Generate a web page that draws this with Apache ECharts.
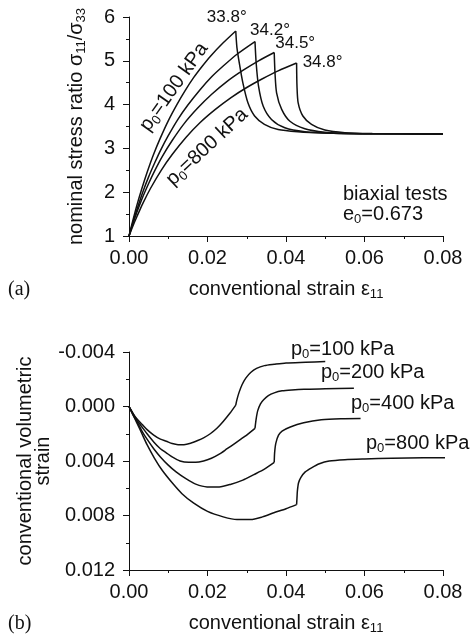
<!DOCTYPE html>
<html>
<head>
<meta charset="utf-8">
<script src="https://cdn.jsdelivr.net/npm/echarts@6/dist/echarts.min.js"></script>
<style>
  html, body { margin: 0; padding: 0; background: #fff; }
  #chart { width: 476px; height: 636px; }
</style>
</head>
<body>
<div id="chart"></div>
<script>
// (a) stress ratio vs strain, one pair of arrays per confining pressure
var strainA100 = [0, 0.001, 0.002, 0.0033, 0.0046, 0.0062, 0.008, 0.010, 0.0122, 0.0143, 0.0165, 0.0186, 0.0207, 0.024, 0.0272, 0.0275, 0.0281, 0.029, 0.0303, 0.032, 0.0345, 0.038, 0.043, 0.05, 0.06, 0.08];
var ratio100   = [1, 1.36, 1.70, 2.09, 2.45, 2.85, 3.24, 3.63, 4.0, 4.32, 4.62, 4.87, 5.10, 5.41, 5.68, 5.30, 4.95, 4.50, 4.04, 3.74, 3.55, 3.43, 3.38, 3.35, 3.335, 3.33];
var strainA200 = [0, 0.001, 0.002, 0.0035, 0.005, 0.0065, 0.008, 0.010, 0.0125, 0.015, 0.018, 0.021, 0.024, 0.0275, 0.0321, 0.0324, 0.033, 0.0342, 0.0363, 0.0397, 0.0448, 0.052, 0.06, 0.08];
var ratio200   = [1, 1.31, 1.60, 2.0, 2.35, 2.66, 2.95, 3.29, 3.67, 3.99, 4.33, 4.63, 4.88, 5.15, 5.44, 4.95, 4.42, 3.96, 3.66, 3.47, 3.38, 3.345, 3.335, 3.33];
var strainA400 = [0, 0.001, 0.002, 0.0035, 0.005, 0.0066, 0.0085, 0.011, 0.014, 0.0175, 0.021, 0.025, 0.029, 0.033, 0.037, 0.0372, 0.0376, 0.0389, 0.041, 0.0448, 0.0499, 0.056, 0.065, 0.08];
var ratio400   = [1, 1.28, 1.54, 1.89, 2.2, 2.5, 2.82, 3.18, 3.56, 3.92, 4.23, 4.53, 4.78, 5.0, 5.19, 4.72, 4.27, 3.89, 3.62, 3.45, 3.37, 3.34, 3.333, 3.33];
var strainA800 = [0, 0.001, 0.002, 0.0035, 0.0055, 0.0082, 0.011, 0.0145, 0.018, 0.022, 0.026, 0.030, 0.034, 0.038, 0.0427, 0.0428, 0.0431, 0.0443, 0.0465, 0.0499, 0.055, 0.062, 0.07, 0.08];
var ratio800   = [1, 1.23, 1.44, 1.74, 2.09, 2.5, 2.86, 3.25, 3.58, 3.89, 4.16, 4.39, 4.59, 4.77, 4.95, 4.42, 4.04, 3.74, 3.55, 3.42, 3.36, 3.34, 3.333, 3.33];
var peakAngles = ['33.8°', '34.2°', '34.5°', '34.8°'];

// (b) volumetric strain vs strain
var strainB100 = [0, 0.001, 0.002, 0.0033, 0.0046, 0.0063, 0.008, 0.0095, 0.011, 0.0125, 0.014, 0.0157, 0.0175, 0.019, 0.0207, 0.0224, 0.024, 0.0257, 0.0272, 0.0275, 0.028, 0.0288, 0.0298, 0.031, 0.0325, 0.0345, 0.037, 0.040, 0.045, 0.050];
var vol100     = [0, 0.0005, 0.0009, 0.0013, 0.0017, 0.0021, 0.0024, 0.00255, 0.00272, 0.0028, 0.0028, 0.0027, 0.0025, 0.0023, 0.0020, 0.0016, 0.0011, 0.0005, -0.0001, -0.0005, -0.0010, -0.0016, -0.0021, -0.0025, -0.0028, -0.0030, -0.0031, -0.0032, -0.00325, -0.0033];
var strainB200 = [0, 0.001, 0.002, 0.0033, 0.0046, 0.0063, 0.008, 0.0095, 0.011, 0.013, 0.0152, 0.017, 0.019, 0.021, 0.023, 0.025, 0.027, 0.0295, 0.0321, 0.0324, 0.0328, 0.0335, 0.0343, 0.0355, 0.037, 0.039, 0.0415, 0.0446, 0.050, 0.0573];
var vol200     = [0, 0.0005, 0.0010, 0.0015, 0.0020, 0.0026, 0.0031, 0.0034, 0.0037, 0.0040, 0.0041, 0.0041, 0.0040, 0.0038, 0.0035, 0.0031, 0.0027, 0.0022, 0.0016, 0.0009, 0.0003, -0.0002, -0.0005, -0.0008, -0.0010, -0.00115, -0.00122, -0.00127, -0.0013, -0.00134];
var strainB400 = [0, 0.001, 0.002, 0.0033, 0.0046, 0.0063, 0.008, 0.010, 0.012, 0.0145, 0.017, 0.0199, 0.023, 0.026, 0.029, 0.0318, 0.0345, 0.037, 0.0371, 0.0374, 0.0381, 0.039, 0.0411, 0.0445, 0.049, 0.054, 0.059];
var vol400     = [0, 0.0006, 0.0011, 0.0018, 0.0024, 0.0031, 0.0037, 0.0043, 0.0048, 0.0053, 0.0057, 0.0059, 0.0059, 0.0057, 0.0054, 0.0050, 0.0046, 0.0041, 0.0034, 0.0027, 0.0021, 0.0018, 0.0015, 0.0012, 0.00098, 0.0009, 0.00088];
var strainB800 = [0, 0.001, 0.002, 0.0033, 0.0046, 0.0065, 0.0085, 0.011, 0.0135, 0.0165, 0.020, 0.024, 0.0275, 0.031, 0.034, 0.0369, 0.040, 0.0427, 0.0428, 0.0429, 0.0432, 0.0438, 0.0449, 0.0465, 0.0485, 0.051, 0.055, 0.060, 0.067, 0.075, 0.0867];
var vol800     = [0, 0.0006, 0.0012, 0.0020, 0.0028, 0.0038, 0.0047, 0.0056, 0.0064, 0.0071, 0.0077, 0.0081, 0.0083, 0.0083, 0.0081, 0.0078, 0.0075, 0.0072, 0.0067, 0.0062, 0.0056, 0.0052, 0.0048, 0.0045, 0.0042, 0.0040, 0.0039, 0.00385, 0.0038, 0.00377, 0.00375];

var pressureLabels = ['100', '200', '400', '800'];
var xTicks = [0, 0.02, 0.04, 0.06, 0.08];

var FONT = 'Liberation Sans, Arial, sans-serif';
var SERIF = 'Liberation Serif, Times New Roman, serif';
var INK = '#111';
// where the peak-angle text sits relative to its peak (px)
var angleOffsets = [[-9, -5], [15, -3], [21, -1], [26, 8]];

function zip(xs, ys) {
    return xs.map(function (x, i) { return [x, ys[i]]; });
}
function peakIndex(ys) {
    var k = 0;
    for (var i = 1; i < ys.length; i++) { if (ys[i] > ys[k]) k = i; }
    return k;
}
function nearestIndex(xs, x) {
    var k = 0;
    for (var i = 1; i < xs.length; i++) { if (Math.abs(xs[i] - x) < Math.abs(xs[k] - x)) k = i; }
    return k;
}

var strainsA = [strainA100, strainA200, strainA400, strainA800];
var ratiosA = [ratio100, ratio200, ratio400, ratio800];
var strainsB = [strainB100, strainB200, strainB400, strainB800];
var volsB = [vol100, vol200, vol400, vol800];

var peakIdx = ratiosA.map(peakIndex);
var peaks = peakIdx.map(function (k, i) { return [strainsA[i][k], ratiosA[i][k]]; });

var subRich = {
    m: { fontSize: 20, fontFamily: FONT, color: INK, lineHeight: 24 },
    s: { fontSize: 13, fontFamily: FONT, color: INK, lineHeight: 10, verticalAlign: 'bottom' }
};

function baseAxis(extra) {
    var ax = {
        type: 'value',
        axisLine: { show: true, onZero: false, lineStyle: { color: INK, width: 1 } },
        axisTick: { show: true, length: 6, lineStyle: { color: INK, width: 1 } },
        minorTick: { show: true, splitNumber: 2, length: 3, lineStyle: { color: INK, width: 1 } },
        splitLine: { show: false },
        axisLabel: { fontSize: 20, fontFamily: FONT, color: INK },
        nameLocation: 'middle',
        nameMoveOverlap: false,
        nameTextStyle: { fontSize: 20, fontFamily: FONT, color: INK, rich: subRich }
    };
    for (var k in extra) {
        if (k === 'axisLabel') {
            for (var j in extra[k]) ax.axisLabel[j] = extra[k][j];
        } else {
            ax[k] = extra[k];
        }
    }
    return ax;
}

// each curve is drawn as two smooth pieces meeting at its sharp corner
function addCurve(list, data, cut, axisIdx, name) {
    var common = {
        type: 'line', xAxisIndex: axisIdx, yAxisIndex: axisIdx, symbol: 'none',
        smooth: 0.25, clip: false,
        lineStyle: { color: INK, width: 1.5 }
    };
    list.push(Object.assign({ name: name + 'pre', data: data.slice(0, cut + 1) }, common));
    list.push(Object.assign({ name: name + 'post', data: data.slice(cut) }, common));
}

var series = [];
strainsA.forEach(function (xs, i) {
    addCurve(series, zip(xs, ratiosA[i]), peakIdx[i], 0, 'a' + pressureLabels[i]);
});
strainsB.forEach(function (xs, i) {
    addCurve(series, zip(xs, volsB[i]), nearestIndex(xs, peaks[i][0]), 1, 'b' + pressureLabels[i]);
});

function txt(x, y, text, opts) {
    opts = opts || {};
    var va = opts.va || 'middle';
    return {
        type: 'text', x: x, y: y, rotation: opts.rotation || 0, silent: true, z: 10,
        style: {
            text: text,
            fill: INK,
            fontSize: opts.fontSize || 20,
            fontFamily: opts.fontFamily || FONT,
            align: opts.align || 'left', textAlign: opts.align || 'left',
            verticalAlign: va, textVerticalAlign: va,
            rich: subRich
        }
    };
}

function pLabel(p) {
    return '{m|p}{s|0}{m|=' + p + ' kPa}';
}

var option = {
    animation: false,
    backgroundColor: '#fff',
    grid: [
        { left: 129, top: 17, width: 314, height: 219 },
        { left: 129, top: 352, width: 314, height: 220 }
    ],
    xAxis: [
        baseAxis({
            gridIndex: 0, min: xTicks[0], max: xTicks[xTicks.length - 1], interval: xTicks[1] - xTicks[0],
            axisLabel: { margin: 12, formatter: function (v) { return v.toFixed(2); } },
            name: '{m|conventional strain ε}{s|11}', nameGap: 41
        }),
        baseAxis({
            gridIndex: 1, min: xTicks[0], max: xTicks[xTicks.length - 1], interval: xTicks[1] - xTicks[0],
            axisLabel: { margin: 12, formatter: function (v) { return v.toFixed(2); } },
            name: '{m|conventional strain ε}{s|11}', nameGap: 41
        })
    ],
    yAxis: [
        baseAxis({
            gridIndex: 0, min: 1, max: 6, interval: 1,
            axisLabel: { margin: 14 },
            name: '{m|nominal stress ratio σ}{s|11}{m|/σ}{s|33}', nameGap: 41
        }),
        baseAxis({
            gridIndex: 1, min: -0.004, max: 0.012, interval: 0.004, inverse: true,
            axisLabel: {
                margin: 14,
                formatter: function (v) { return Math.abs(v) < 1e-9 ? '0.000' : v.toFixed(3); }
            },
            name: 'conventional volumetric\nstrain', nameGap: 77,
            nameTextStyle: { fontSize: 20, fontFamily: FONT, color: INK, lineHeight: 18 }
        })
    ],
    series: series
};

var chart = echarts.init(document.getElementById('chart'));
chart.setOption(option);

var graphics = [
    txt(8, 290, '(a)', { fontFamily: SERIF }),
    txt(8, 624, '(b)', { fontFamily: SERIF }),
    txt(343, 194, '{m|biaxial tests}'),
    txt(343, 214, '{m|e}{s|0}{m|=0.673}'),
    txt(174, 87, pLabel(pressureLabels[0]), { align: 'center', rotation: 54.5 * Math.PI / 180 }),
    txt(207, 147, pLabel(pressureLabels[3]), { align: 'center', rotation: 43 * Math.PI / 180 }),
    txt(291, 349, pLabel(pressureLabels[0])),
    txt(321, 372, pLabel(pressureLabels[1])),
    txt(351, 403, pLabel(pressureLabels[2])),
    txt(366, 443, pLabel(pressureLabels[3]))
];
peaks.forEach(function (p, i) {
    var px = chart.convertToPixel({ gridIndex: 0 }, p);
    graphics.push(txt(px[0] + angleOffsets[i][0], px[1] + angleOffsets[i][1], peakAngles[i],
        { align: 'center', va: 'bottom', fontSize: 17 }));
});
chart.setOption({ graphic: graphics });
</script>
</body>
</html>
